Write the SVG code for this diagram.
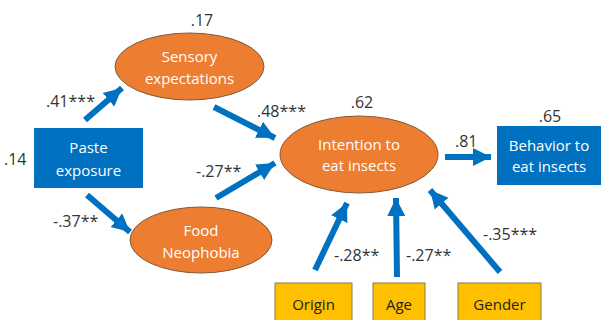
<svg xmlns="http://www.w3.org/2000/svg" width="601" height="320" viewBox="0 0 601 320">
<style>
.ell{fill:#ED7D31;stroke:#7F5A3A;stroke-width:1}
.blue{fill:#0070C0}
.yel{fill:#FFC000;stroke:#8C7A4A;stroke-width:1}
.wt{font-family:"Open Sans","Liberation Sans",sans-serif;font-size:15px;fill:#fff;text-anchor:middle}
.bt{font-family:"Open Sans","Liberation Sans",sans-serif;font-size:15px;fill:#222;text-anchor:middle}
.lb{font-family:"Open Sans","Liberation Sans",sans-serif;font-size:16px;fill:#333}
.ar{stroke:#0070C0;stroke-width:6;fill:none;marker-end:url(#ah)}
</style>
<defs>
<marker id="ah" markerUnits="userSpaceOnUse" markerWidth="20" markerHeight="20" viewBox="0 0 20 20" refX="18" refY="10" orient="auto">
<path d="M0,1 L18,10 L0,19 Z" fill="#0070C0"/>
</marker>
</defs>
<rect width="601" height="320" fill="#fff"/>
<g id="connectors">
<line class="ar" x1="85" y1="120" x2="122" y2="88"/>
<line class="ar" x1="214" y1="107" x2="275" y2="138"/>
<line class="ar" x1="87" y1="195" x2="130" y2="232"/>
<line class="ar" x1="216" y1="198" x2="275" y2="163"/>
<line class="ar" x1="445" y1="157" x2="491" y2="157"/>
<line class="ar" x1="315" y1="270" x2="347" y2="203"/>
<line class="ar" x1="397" y1="277" x2="396" y2="198"/>
<line class="ar" x1="500" y1="272" x2="430" y2="190"/>
</g>
<g id="labels">
<text class="lb" x="46" y="107">.41***</text>
<text class="lb" x="257" y="117">.48***</text>
<text class="lb" x="196" y="177">-.27**</text>
<text class="lb" x="53" y="227">-.37**</text>
<text class="lb" x="4" y="165">.14</text>
<text class="lb" x="334" y="261">-.28**</text>
<text class="lb" x="406" y="261">-.27**</text>
<text class="lb" x="483" y="240">-.35***</text>
<text class="lb" x="455" y="147">.81</text>
<text class="lb" x="202" y="26" text-anchor="middle">.17</text>
<text class="lb" x="362" y="108" text-anchor="middle">.62</text>
<text class="lb" x="550" y="122" text-anchor="middle">.65</text>
</g>
<g id="sensory">
<ellipse class="ell" cx="189.5" cy="66.5" rx="74.5" ry="33.5"/>
<text class="wt" x="189.5" y="62">Sensory</text>
<text class="wt" x="189.5" y="84">expectations</text>
</g>
<g id="paste">
<rect class="blue" x="34" y="128" width="109" height="60"/>
<text class="wt" x="88.5" y="153">Paste</text>
<text class="wt" x="88.5" y="176">exposure</text>
</g>
<g id="food">
<ellipse class="ell" cx="201" cy="240" rx="71" ry="33"/>
<text class="wt" x="201" y="236">Food</text>
<text class="wt" x="201" y="258">Neophobia</text>
</g>
<g id="intention">
<ellipse class="ell" cx="359" cy="154.5" rx="79" ry="38.5"/>
<text class="wt" x="359" y="150">Intention to</text>
<text class="wt" x="359" y="171">eat insects</text>
</g>
<g id="behavior">
<rect class="blue" x="497" y="126" width="104" height="59"/>
<text class="wt" x="549" y="151">Behavior to</text>
<text class="wt" x="549" y="172">eat insects</text>
</g>
<g id="origin">
<rect class="yel" x="275" y="283" width="77" height="40"/>
<text class="bt" x="313.5" y="310">Origin</text>
</g>
<g id="age">
<rect class="yel" x="373" y="283" width="52" height="40"/>
<text class="bt" x="399" y="310">Age</text>
</g>
<g id="gender">
<rect class="yel" x="458" y="283" width="83" height="40"/>
<text class="bt" x="499.5" y="310">Gender</text>
</g>
</svg>
